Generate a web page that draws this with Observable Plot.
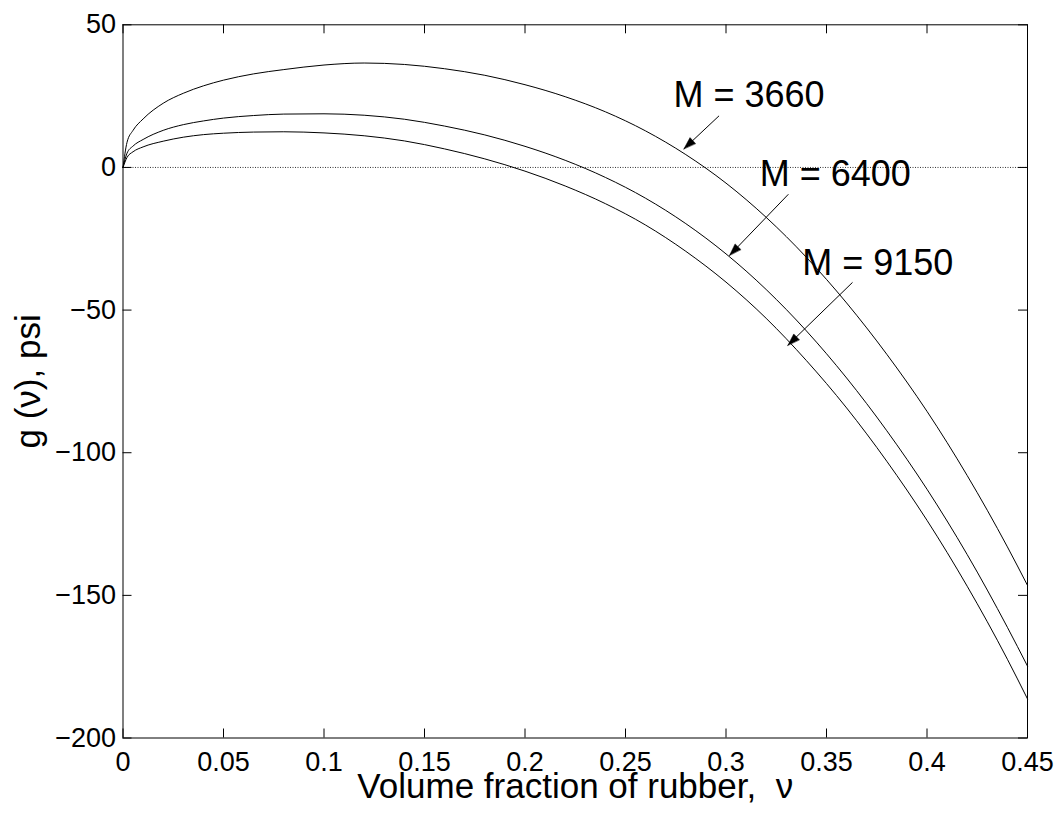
<!DOCTYPE html>
<html>
<head>
<meta charset="utf-8">
<script src="https://cdn.jsdelivr.net/npm/d3@7"></script>
<script src="https://cdn.jsdelivr.net/npm/@observablehq/plot@0.6"></script>
<style>
  html, body { margin: 0; padding: 0; background: #fff; }
  #chart svg { display: block; }
</style>
</head>
<body>
<div id="chart"></div>
<script>
// ---- data ----
const nu = [0, 0.002, 0.005, 0.01, 0.02, 0.03, 0.04, 0.05, 0.065, 0.08, 0.1, 0.12, 0.14, 0.16, 0.18, 0.2, 0.22, 0.24, 0.26, 0.28, 0.30, 0.32, 0.34, 0.36, 0.38, 0.40, 0.42, 0.44, 0.45];
const g3660 = [0, 8.8, 13, 17, 22.5, 26, 28.6, 30.6, 32.8, 34.3, 35.9, 36.6, 36.1, 34.6, 32.3, 29.0, 24.8, 19.5, 12.8, 4.5, -5.5, -17.5, -31.5, -47.5, -65.5, -85.5, -108, -133, -146.5];
const g6400 = [0, 5.0, 7.5, 9.8, 13.0, 15.0, 16.3, 17.3, 18.2, 18.7, 18.8, 18.3, 16.9, 14.5, 11.4, 7.4, 2.5, -3.5, -10.8, -19.7, -30.3, -42.8, -57.3, -73.8, -92.3, -112.8, -135.7, -161.2, -174.8];
const g9150 = [0, 3.5, 5.5, 7.2, 9.2, 10.6, 11.5, 12.0, 12.4, 12.5, 12.1, 11.1, 9.3, 6.5, 3.0, -1.3, -6.5, -12.7, -20.2, -29.4, -40.2, -52.9, -67.7, -84.3, -103.0, -123.7, -146.8, -172.4, -186.3];
const seriesNames = ["M = 3660", "M = 6400", "M = 9150"];

const xTicks = [0, 0.05, 0.1, 0.15, 0.2, 0.25, 0.3, 0.35, 0.4, 0.45];
const xTickLabels = ["0", "0.05", "0.1", "0.15", "0.2", "0.25", "0.3", "0.35", "0.4", "0.45"];
const yTicks = [-200, -150, -100, -50, 0, 50];
const yTickLabels = ["\u2212200", "\u2212150", "\u2212100", "\u221250", "0", "50"];

const xLabel = "Volume fraction of rubber,  \u03bd";
const yLabel = "g (\u03bd), psi";

// annotation text anchors and arrows (data coordinates)
const labelNu = [0.2739, 0.3168, 0.3379];
const labelG = [25.2, -2.45, -33.5];
const arrowFromNu = [0.2964, 0.3309, 0.3628];
const arrowFromG = [18.0, -9.5, -40.4];
const arrowToNu = [0.2791, 0.3018, 0.3308];
const arrowToG = [6.55, -30.8, -62.3];

// ---- build tables ----
const seriesValues = [g3660, g6400, g9150];
const rows = [];
seriesNames.forEach((name, s) => nu.forEach((v, i) => rows.push({series: name, nu: v, g: seriesValues[s][i]})));
const annots = seriesNames.map((name, i) => ({
  text: name, lx: labelNu[i], ly: labelG[i],
  x1: arrowFromNu[i], y1: arrowFromG[i], x2: arrowToNu[i], y2: arrowToG[i]
}));
const xFmt = new Map(xTicks.map((d, i) => [d, xTickLabels[i]]));
const yFmt = new Map(yTicks.map((d, i) => [d, yTickLabels[i]]));

const W = 1060, H = 821;
const mL = 122.5, mR = 33, mT = 24.3, mB = 83.5;
const innerW = W - mL - mR, innerH = H - mT - mB;
const tick = 9;
const font = "'Liberation Sans', Arial, Helvetica, sans-serif";

const plot = Plot.plot({
  width: W, height: H,
  marginLeft: mL, marginRight: mR, marginTop: mT, marginBottom: mB,
  style: {fontFamily: font, background: "#fff", color: "#000", overflow: "visible"},
  x: {domain: [0, 0.45]},
  y: {domain: [-200, 50]},
  marks: [
    Plot.ruleY([0], {stroke: "#000", strokeWidth: 1, strokeDasharray: "1,1.5", strokeOpacity: 0.8}),
    Plot.line(rows, {x: "nu", y: "g", z: "series", stroke: "#000", strokeWidth: 1, curve: "monotone-x"}),
    Plot.ruleX(xTicks, {insetTop: innerH - tick, stroke: "#000"}),
    Plot.ruleX(xTicks, {insetBottom: innerH - tick, stroke: "#000"}),
    Plot.ruleY(yTicks, {insetRight: innerW - tick, stroke: "#000"}),
    Plot.ruleY(yTicks, {insetLeft: innerW - tick, stroke: "#000"}),
    Plot.frame({stroke: "#000", strokeWidth: 1}),
    Plot.axisX(xTicks, {anchor: "bottom", tickSize: 0, tickPadding: 13.5, fontSize: 27, tickFormat: d => xFmt.get(d), label: null}),
    Plot.axisY(yTicks, {anchor: "left", tickSize: 0, tickPadding: 7, fontSize: 27, tickFormat: d => yFmt.get(d), label: null}),
    Plot.text([xLabel], {frameAnchor: "bottom", text: d => d, lineAnchor: "middle", textAnchor: "middle", dy: 48.3, fontSize: 35}),
    Plot.text([yLabel], {frameAnchor: "left", text: d => d, rotate: -90, lineAnchor: "middle", textAnchor: "middle", dx: -94.7, fontSize: 35}),
    Plot.arrow(annots, {
      x1: "x1", y1: "y1", x2: "x2", y2: "y2", headLength: 0, stroke: "#000", strokeWidth: 1,
      render(index, scales, values, dimensions, context, next) {
        const g = next(index, scales, values, dimensions, context);
        const X1 = values.x1, Y1 = values.y1, X2 = values.x2, Y2 = values.y2;
        const hl = 12, hw = 4;
        for (const i of index) {
          const dx = X2[i] - X1[i], dy = Y2[i] - Y1[i];
          const L = Math.hypot(dx, dy), ux = dx / L, uy = dy / L;
          const bx = X2[i] - ux * hl, by = Y2[i] - uy * hl;
          const pts = [[X2[i], Y2[i]], [bx - uy * hw, by + ux * hw], [bx + uy * hw, by - ux * hw]];
          d3.select(g).append("path")
            .attr("d", "M" + pts.map(p => p.join(",")).join("L") + "Z")
            .attr("fill", "#000").attr("stroke", "#000").attr("stroke-width", 0.5);
        }
        return g;
      }
    }),
    Plot.text(annots, {x: "lx", y: "ly", text: "text", textAnchor: "start", fontSize: 36})
  ]
});
document.getElementById("chart").appendChild(plot);
</script>
</body>
</html>
